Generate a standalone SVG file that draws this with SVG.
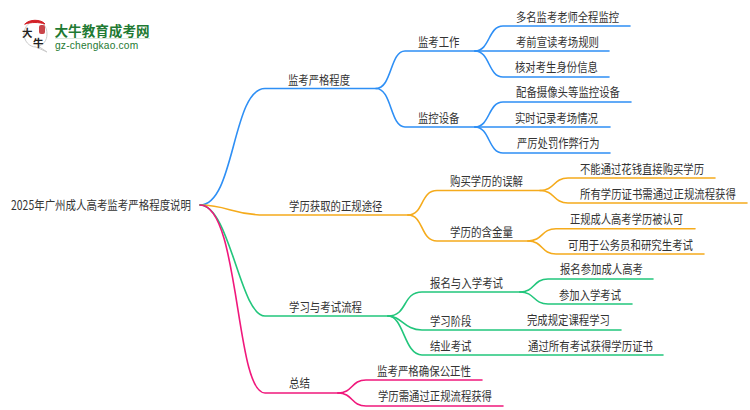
<svg xmlns="http://www.w3.org/2000/svg" width="750" height="410" viewBox="0 0 750 410">
<style>
text{font-family:"Noto Sans CJK SC","Noto Sans",sans-serif;font-size:12.5px;fill:#333}
path{fill:none;stroke-width:1.6;stroke-linecap:round}
.b path{stroke:#2e8ff5}.o path{stroke:#f5ab1c}.g path{stroke:#22c67c}.p path{stroke:#f0187c}
</style>
<rect width="750" height="410" fill="#fff"/>
<g id="logo">
<path d="M24 34C24 26 30 21 36 21C43 21 47 27 47 34C47 41 43 45 38 46L47 52L36 47C29 47 24 41 24 34Z" style="fill:#fff;stroke:#ccc;stroke-width:1"/>
<path d="M25 24C29 19 41 19 45 24C39 22 31 22 25 24Z" style="fill:#d32027;stroke:#d32027;stroke-width:1"/>
<rect x="39" y="25" width="6" height="9" rx="2" fill="#c9454a"/>
<text x="22" y="37" style="font-size:10.500px;fill:#222;font-weight:700">大</text>
<text x="33" y="47" style="font-size:10.500px;fill:#222;font-weight:700">牛</text>
<text x="54.500" y="35.500" style="font-size:13.600px;fill:#1f7a33;font-weight:700">大牛教育成考网</text>
<rect x="55" y="38" width="95" height="1" fill="#dbe8dc"/>
<text x="55" y="48.500" style="font-family:'Liberation Sans',sans-serif;font-size:10.200px;fill:#1f7a33;letter-spacing:.2px">gz-chengkao.com</text>
</g>
<g id="connectors">
<g class="b">
<path d="M200 205C235 205 232 88.500 265 88.500H376"/>
<path d="M376 88.500C392 88.500 390 51 405 51H475"/>
<path d="M376 88.500C392 88.500 390 127 405 127H475"/>
<path d="M475 51C490 51 488 26 503 26H630"/>
<path d="M475 51H609"/>
<path d="M475 51C490 51 488 77 503 77H609"/>
<path d="M475 127C490 127 488 102 503 102H631"/>
<path d="M475 127H610"/>
<path d="M475 127C490 127 488 153 503 153H610"/>
</g>
<g class="o">
<path d="M200 205C228 205 232 215 265 215H408"/>
<path d="M408 215C424 215 420 190.500 437 190.500H540"/>
<path d="M408 215C424 215 420 241 437 241H528"/>
<path d="M540 190.500C555 190.500 553 178 568 178H715"/>
<path d="M540 190.500C555 190.500 553 203 568 203H747"/>
<path d="M528 241C543 241 541 228.700 556 228.700H695"/>
<path d="M528 241C543 241 541 254 556 254H704"/>
</g>
<g class="g">
<path d="M200 205C230 205 240 316 265 316H388"/>
<path d="M388 316C408 316 402 292 422 292H520"/>
<path d="M388 316C402 316 404 330 422 330H621"/>
<path d="M388 316C404 316 404 355 422 355H663"/>
<path d="M520 292C535 292 533 279 548 279H653"/>
<path d="M520 292C535 292 533 304 548 304H632"/>
</g>
<g class="p">
<path d="M200 205C240 205 235 393 265 393H338"/>
<path d="M338 393C353 393 351 380 366 380H482"/>
<path d="M338 393C353 393 351 406 366 406H503"/>
</g>
</g>
<g id="root"><text x="11" y="210" textLength="180" lengthAdjust="spacingAndGlyphs">2025年广州成人高考监考严格程度说明</text></g>
<g id="n1"><text x="288" y="84.500" textLength="62" lengthAdjust="spacingAndGlyphs">监考严格程度</text></g>
<g id="n1-1"><text x="418" y="46.500" textLength="41.500" lengthAdjust="spacingAndGlyphs">监考工作</text></g>
<g id="n1-2"><text x="418" y="122.500" textLength="41.500" lengthAdjust="spacingAndGlyphs">监控设备</text></g>
<g id="n1-1-1"><text x="516" y="21.500" textLength="103" lengthAdjust="spacingAndGlyphs">多名监考老师全程监控</text></g>
<g id="n1-1-2"><text x="516" y="46.500" textLength="83" lengthAdjust="spacingAndGlyphs">考前宣读考场规则</text></g>
<g id="n1-1-3"><text x="515" y="72" textLength="83" lengthAdjust="spacingAndGlyphs">核对考生身份信息</text></g>
<g id="n1-2-1"><text x="516" y="97" textLength="104" lengthAdjust="spacingAndGlyphs">配备摄像头等监控设备</text></g>
<g id="n1-2-2"><text x="515" y="122.500" textLength="83" lengthAdjust="spacingAndGlyphs">实时记录考场情况</text></g>
<g id="n1-2-3"><text x="517" y="148" textLength="82.500" lengthAdjust="spacingAndGlyphs">严厉处罚作弊行为</text></g>
<g id="n2"><text x="289" y="210.500" textLength="93.500" lengthAdjust="spacingAndGlyphs">学历获取的正规途径</text></g>
<g id="n2-1"><text x="450" y="186" textLength="73" lengthAdjust="spacingAndGlyphs">购买学历的误解</text></g>
<g id="n2-2"><text x="450" y="236.500" textLength="63" lengthAdjust="spacingAndGlyphs">学历的含金量</text></g>
<g id="n2-1-1"><text x="580" y="173.500" textLength="124" lengthAdjust="spacingAndGlyphs">不能通过花钱直接购买学历</text></g>
<g id="n2-1-2"><text transform="translate(580 198.500) scale(.832 1)">所有学历证书需通过正规流程获得</text></g>
<g id="n2-2-1"><text x="570" y="224" textLength="113" lengthAdjust="spacingAndGlyphs">正规成人高考学历被认可</text></g>
<g id="n2-2-2"><text x="568" y="249.500" textLength="125" lengthAdjust="spacingAndGlyphs">可用于公务员和研究生考试</text></g>
<g id="n3"><text x="289" y="311.500" textLength="73" lengthAdjust="spacingAndGlyphs">学习与考试流程</text></g>
<g id="n3-1"><text x="430" y="287.500" textLength="73" lengthAdjust="spacingAndGlyphs">报名与入学考试</text></g>
<g id="n3-2"><text x="430" y="325.500" textLength="41.500" lengthAdjust="spacingAndGlyphs">学习阶段</text></g>
<g id="n3-3"><text x="430" y="350.500" textLength="41.500" lengthAdjust="spacingAndGlyphs">结业考试</text></g>
<g id="n3-1-1"><text x="560" y="274" textLength="83" lengthAdjust="spacingAndGlyphs">报名参加成人高考</text></g>
<g id="n3-1-2"><text x="559" y="299.500" textLength="62" lengthAdjust="spacingAndGlyphs">参加入学考试</text></g>
<g id="n3-2-1"><text x="527" y="325" textLength="83" lengthAdjust="spacingAndGlyphs">完成规定课程学习</text></g>
<g id="n3-3-1"><text x="528" y="350.500" textLength="125" lengthAdjust="spacingAndGlyphs">通过所有考试获得学历证书</text></g>
<g id="n4"><text x="289" y="387.500" textLength="21" lengthAdjust="spacingAndGlyphs">总结</text></g>
<g id="n4-1"><text x="377" y="375.500" textLength="94" lengthAdjust="spacingAndGlyphs">监考严格确保公正性</text></g>
<g id="n4-2"><text x="378" y="401" textLength="114" lengthAdjust="spacingAndGlyphs">学历需通过正规流程获得</text></g>
</svg>
